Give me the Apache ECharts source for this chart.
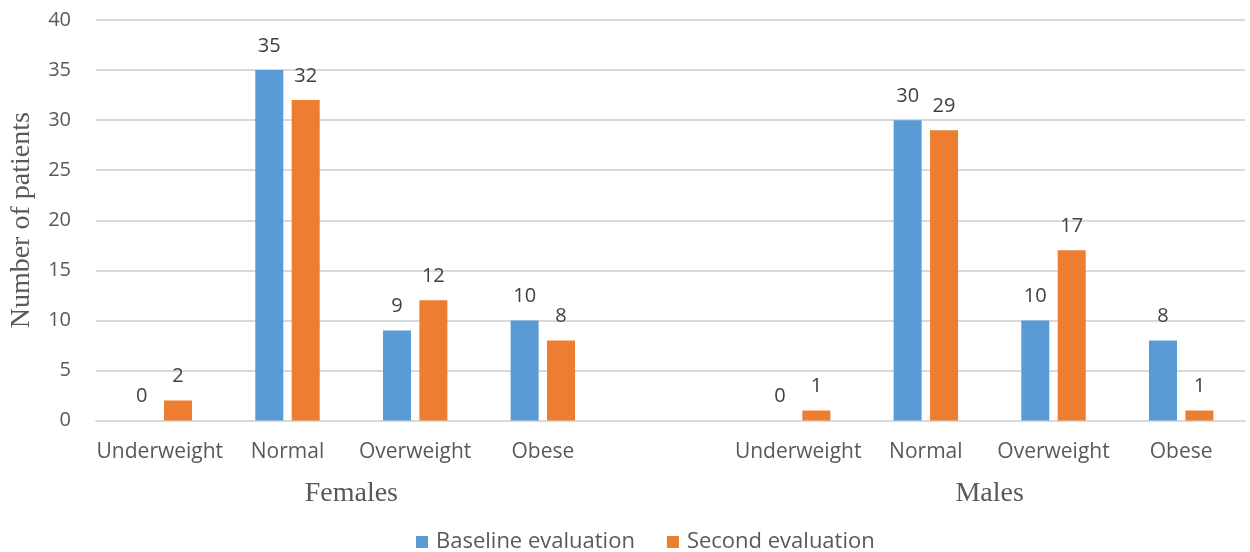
<!DOCTYPE html>
<html>
<head>
<meta charset="utf-8">
<title>Number of patients by BMI category</title>
<script src="https://cdn.jsdelivr.net/npm/echarts@6/dist/echarts.min.js"></script>
<style>
  html, body { margin: 0; padding: 0; background: #fff; }
  #chart { width: 1250px; height: 552px; }
</style>
</head>
<body>
<div id="chart"></div>
<script>
// BMI categories, females then males, with an empty slot separating the two groups
const categories = ['Underweight', 'Normal', 'Overweight', 'Obese', '', 'Underweight', 'Normal', 'Overweight', 'Obese'];
const groupNames = ['Females', 'Males'];
const groupCenters = [2, 7];           // position of each group label on the 0..9 band scale
const seriesNames = ['Baseline evaluation', 'Second evaluation'];
const baseline = [0, 35, 9, 10, '-', 0, 30, 10, 8];
const second   = [2, 32, 12, 8, '-', 1, 29, 17, 1];
const yTicks = { min: 0, max: 40, interval: 5 };

const sans = '"Open Sans", "Noto Sans", sans-serif';
const serif = '"Liberation Serif", "DejaVu Serif", serif';
const textGrey = '#595959';

const chart = echarts.init(document.getElementById('chart'), null, { renderer: 'canvas' });

const labelStyle = {
  show: true,
  position: 'top',
  distance: 14,
  fontFamily: sans,
  fontSize: 20,
  color: '#404040'
};

chart.setOption({
  animation: false,
  backgroundColor: '#ffffff',
  color: ['#5B9BD5', '#ED7D31'],
  grid: { left: 93, right: 5, top: 20, bottom: 131.5, containLabel: false },
  legend: {
    left: 411,
    top: 526,
    icon: 'rect',
    itemWidth: 12,
    itemHeight: 12,
    itemGap: 32,
    textStyle: { fontFamily: sans, fontSize: 22, color: textGrey, padding: [0, 0, 0, 3] },
    data: seriesNames
  },
  xAxis: [
    {
      type: 'category',
      data: categories,
      axisLine: { show: true, lineStyle: { color: '#d9d9d9', width: 2 } },
      axisTick: { show: false },
      axisLabel: { fontFamily: sans, fontSize: 21, color: textGrey, margin: 21, interval: 0 }
    },
    {
      // group labels under the category labels
      type: 'value',
      position: 'bottom',
      min: 0,
      max: categories.length,
      interval: 1,
      axisLine: { show: false },
      axisTick: { show: false },
      splitLine: { show: false },
      axisLabel: {
        margin: 59,
        fontFamily: serif,
        fontSize: 28,
        color: textGrey,
        formatter: function (v) {
          const i = groupCenters.indexOf(v);
          return i >= 0 ? groupNames[i] : '';
        }
      }
    }
  ],
  yAxis: {
    type: 'value',
    min: yTicks.min,
    max: yTicks.max,
    interval: yTicks.interval,
    name: 'Number of patients',
    nameLocation: 'middle',
    nameGap: 60,
    nameTextStyle: { fontFamily: serif, fontSize: 28, color: textGrey },
    axisLine: { show: false },
    axisTick: { show: false },
    axisLabel: { fontFamily: sans, fontSize: 20, color: textGrey, margin: 25 },
    splitLine: { lineStyle: { color: '#d9d9d9', width: 2 } }
  },
  series: [
    {
      name: seriesNames[0],
      type: 'bar',
      xAxisIndex: 0,
      data: baseline,
      barWidth: 28,
      barGap: '30%',
      label: labelStyle
    },
    {
      name: seriesNames[1],
      type: 'bar',
      xAxisIndex: 0,
      data: second,
      barWidth: 28,
      barGap: '30%',
      label: labelStyle
    }
  ]
});
</script>
</body>
</html>
